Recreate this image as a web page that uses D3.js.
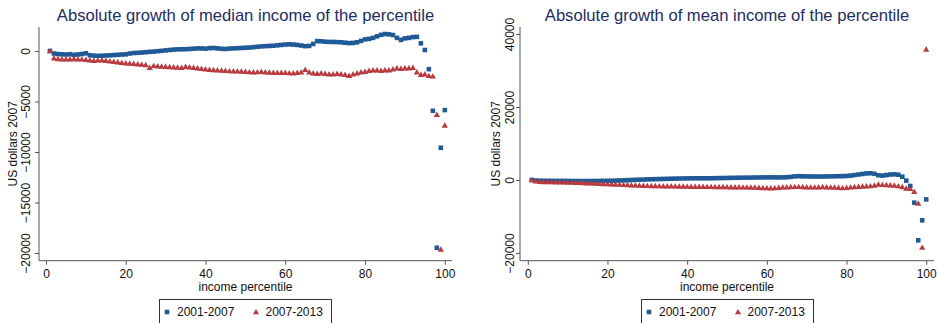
<!DOCTYPE html>
<html>
<head>
<meta charset="utf-8">
<script src="https://cdn.jsdelivr.net/npm/d3@7"></script>
<style>
  body { margin: 0; background: #fff; }
  text { font-family: "Liberation Sans", Arial, sans-serif; }
</style>
</head>
<body>
<svg id="svg" width="937" height="323"></svg>
<script>
const percentiles = d3.range(1, 101)

const seriesNames = ['2001-2007', '2007-2013']

// absolute growth of median income, US dollars 2007
const median0107 = [
  0, -250, -300, -330, -350, -320, -380, -340, -300, -230,
  -420, -460, -480, -470, -450, -430, -400, -380, -350, -330,
  -250, -200, -180, -150, -120, -80, -60, -20, 20, 60,
  100, 140, 160, 170, 180, 200, 230, 260, 250, 230,
  280, 300, 260, 220, 200, 240, 260, 280, 300, 320,
  340, 380, 420, 460, 480, 500, 520, 560, 600, 640,
  660, 640, 600, 540, 480, 500, 700, 980, 960, 920,
  900, 900, 880, 860, 820, 780, 800, 860, 1000, 1150,
  1200, 1300, 1450, 1600, 1680, 1650, 1580, 1300, 1100, 1250,
  1300, 1380, 1400, 760, 100, -1800, -5920, -19480, -9580, -5850
]
const median0713 = [
  0, -700, -780, -800, -810, -800, -790, -800, -820, -850,
  -900, -950, -920, -900, -950, -1000, -1050, -1100, -1150, -1200,
  -1230, -1260, -1300, -1340, -1380, -1650, -1460, -1500, -1520, -1550,
  -1580, -1600, -1620, -1650, -1550, -1600, -1650, -1700, -1750, -1800,
  -1850, -1880, -1900, -1920, -1950, -1980, -2000, -2000, -2020, -2050,
  -2080, -2100, -2080, -2050, -2100, -2120, -2150, -2150, -2150, -2150,
  -2180, -2200, -2150, -2100, -1850, -2100, -2200, -2250, -2200, -2250,
  -2300, -2300, -2250, -2300, -2350, -2440, -2300, -2200, -2100, -2050,
  -1950, -1900, -1900, -1950, -1900, -1900, -1800, -1700, -1750, -1700,
  -1700, -1650, -2100, -2350, -2300, -2450, -2500, -6300, -19650, -7370
]

// absolute growth of mean income, US dollars 2007
const mean0107 = [
  0, -150, -200, -220, -230, -240, -250, -250, -260, -270,
  -280, -290, -290, -300, -300, -290, -280, -260, -240, -220,
  -200, -170, -130, -90, -50, 0, 40, 80, 120, 160,
  200, 230, 260, 290, 320, 350, 380, 400, 420, 440,
  460, 480, 480, 470, 470, 480, 500, 520, 540, 560,
  580, 600, 620, 640, 650, 660, 680, 700, 710, 720,
  730, 720, 700, 720, 760, 850, 1000, 1050, 1000, 980,
  960, 950, 940, 960, 980, 1000, 1020, 1040, 1060, 1100,
  1200, 1350, 1500, 1650, 1800, 1850, 1700, 1300, 1200, 1350,
  1500, 1550, 1450, 900, -180, -1640, -6200, -16520, -11040, -5300
]
const mean0713 = [
  0, -350, -450, -500, -520, -550, -580, -600, -620, -650,
  -680, -720, -760, -800, -850, -900, -950, -1000, -1050, -1100,
  -1150, -1200, -1250, -1300, -1350, -1400, -1450, -1500, -1550, -1580,
  -1600, -1620, -1650, -1680, -1700, -1700, -1720, -1750, -1760, -1780,
  -1800, -1800, -1820, -1830, -1850, -1860, -1880, -1900, -1900, -1920,
  -1950, -1950, -1980, -2000, -2000, -2020, -2050, -2100, -2150, -2200,
  -2250, -2200, -2100, -2000, -1950, -1900, -1850, -1850, -1900, -1950,
  -2000, -2000, -1950, -1900, -1950, -2000, -2050, -2100, -2200, -2100,
  -2000, -1900, -1800, -1750, -1700, -1650, -1500, -1200, -1300, -1350,
  -1400, -1500, -1650, -1900, -2300, -2400, -3200, -6390, -18500, 35800
]

const xTicks = [0, 20, 40, 60, 80, 100]
const medianTicks = [0, -5000, -10000, -15000, -20000]
const meanTicks = [-20000, 0, 20000, 40000]

const blue = '#1f5a96'
const red = '#b83b40'
const titleColor = '#1e2d62'
const axisColor = '#555'

const svg = d3.select('#svg')

const panel = ({ left, right, x0, x100, y0, yTickVal, yTickPx, ticks, labelX, titleX, title, s1, s2, legendX }) => {
  const top = 27, bottom = 260.7
  // x: percentile -> px, fixed by where tick 0 and 100 sit
  const x = d3.scaleLinear().domain([0, 100]).range([x0, x100])
  const y = d3.scaleLinear().domain([0, yTickVal]).range([y0, yTickPx])
  const g = svg.append('g')

  g.append('text')
    .attr('x', (left + right) / 2).attr('y', 20.7)
    .attr('text-anchor', 'middle')
    .attr('font-size', '16.6px')
    .attr('fill', titleColor)
    .text(title)

  // y axis
  const ya = g.append('g')
    .attr('transform', `translate(${left},0)`)
    .call(d3.axisLeft(y).tickValues(ticks).tickSize(4).tickSizeOuter(0).tickFormat(d3.format('d')))
  ya.select('.domain').attr('d', `M0,${top}V${bottom}`).attr('stroke', axisColor)
  ya.selectAll('.tick line').attr('stroke', axisColor)
  ya.selectAll('.tick text')
    .attr('x', null).attr('dy', null)
    .attr('text-anchor', 'middle')
    .attr('font-size', '12px')
    .attr('fill', '#111')
    .attr('transform', `translate(${labelX - left},0) rotate(-90)`)

  g.append('text')
    .attr('transform', `translate(${titleX},${(top + bottom) / 2}) rotate(-90)`)
    .attr('text-anchor', 'middle')
    .attr('font-size', '12px')
    .attr('fill', '#111')
    .text('US dollars 2007')

  // x axis
  const xa = g.append('g')
    .attr('transform', `translate(0,${bottom})`)
    .call(d3.axisBottom(x).tickValues(xTicks).tickSize(4).tickSizeOuter(0))
  xa.select('.domain').attr('d', `M${left},0H${right}`).attr('stroke', axisColor)
  xa.selectAll('.tick line').attr('stroke', axisColor)
  xa.selectAll('.tick text')
    .attr('y', 17.5).attr('dy', null)
    .attr('font-size', '12px')
    .attr('fill', '#111')

  g.append('text')
    .attr('x', (left + right) / 2).attr('y', 291)
    .attr('text-anchor', 'middle')
    .attr('font-size', '12px')
    .attr('fill', '#111')
    .text('income percentile')

  const square = d3.symbol().type(d3.symbolSquare).size(21)
  const tri = d3.symbol().type(d3.symbolTriangle).size(17)

  g.append('g').selectAll('path')
    .data(percentiles)
    .join('path')
    .attr('d', square)
    .attr('fill', blue)
    .attr('transform', (d, i) => `translate(${x(d)},${y(s1[i])})`)

  g.append('g').selectAll('path')
    .data(percentiles)
    .join('path')
    .attr('d', tri)
    .attr('fill', red)
    .attr('transform', (d, i) => `translate(${x(d)},${y(s2[i]) + 0.5})`)

  // legend
  const lg = g.append('g').attr('transform', `translate(${legendX},299.5)`)
  lg.append('rect')
    .attr('width', 172).attr('height', 30)
    .attr('fill', '#fff').attr('stroke', '#333')
  lg.append('path').attr('d', square).attr('fill', blue).attr('transform', 'translate(7.5,12.5)')
  lg.append('text').attr('x', 17.5).attr('y', 16.5).attr('font-size', '12px').attr('fill', '#111').text(seriesNames[0])
  lg.append('path').attr('d', tri).attr('fill', red).attr('transform', 'translate(96.5,13)')
  lg.append('text').attr('x', 106).attr('y', 16.5).attr('font-size', '12px').attr('fill', '#111').text(seriesNames[1])
}

panel({
  left: 39, right: 452, x0: 46, x100: 444.8,
  y0: 51, yTickVal: -20000, yTickPx: 253,
  ticks: medianTicks, labelX: 29.5, titleX: 16.5,
  title: 'Absolute growth of median income of the percentile',
  s1: median0107, s2: median0713, legendX: 159.5
})

panel({
  left: 520, right: 934, x0: 527.8, x100: 926.2,
  y0: 180, yTickVal: 40000, yTickPx: 34,
  ticks: meanTicks, labelX: 513.5, titleX: 500,
  title: 'Absolute growth of mean income of the percentile',
  s1: mean0107, s2: mean0713, legendX: 641.5
})
</script>
</body>
</html>
